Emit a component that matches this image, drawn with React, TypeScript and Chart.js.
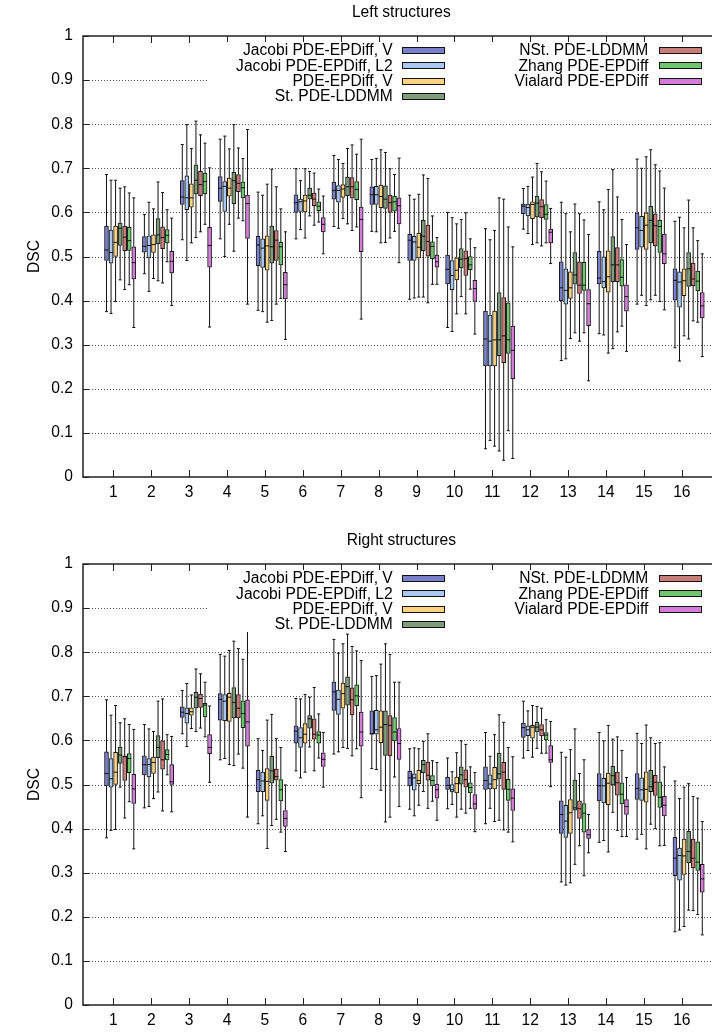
import React, { useEffect, useRef } from 'react';
import { Chart, registerables } from 'chart.js';

Chart.register(...registerables);

// ---------- data ----------
const groupLabels = ['1', '2', '3', '4', '5', '6', '7', '8', '9', '10', '11', '12', '13', '14', '15', '16'];
const groupPositions = [1, 2, 3, 4, 5, 6, 7, 8, 9, 10, 11, 12, 13, 14, 15, 16];
const yTickValues = [0, 0.1, 0.2, 0.3, 0.4, 0.5, 0.6, 0.7, 0.8, 0.9, 1];
const yTickLabels = ['0', '0.1', '0.2', '0.3', '0.4', '0.5', '0.6', '0.7', '0.8', '0.9', '1'];
const yGridValues = [0.1, 0.2, 0.3, 0.4, 0.5, 0.6, 0.7, 0.8, 0.9];

const seriesNames = [
  'Jacobi PDE-EPDiff, V',
  'Jacobi PDE-EPDiff, L2',
  'PDE-EPDiff, V',
  'St. PDE-LDDMM',
  'NSt. PDE-LDDMM',
  'Zhang PDE-EPDiff',
  'Vialard PDE-EPDiff',
];

// each entry: [whisker low, Q1, median, Q3, whisker high]
const leftJacobiV = [
  [0.375, 0.491, 0.515, 0.569, 0.686], [0.461, 0.510, 0.523, 0.545, 0.595], [0.538, 0.618, 0.635, 0.672, 0.754], [0.540, 0.625, 0.655, 0.681, 0.766],
  [0.378, 0.479, 0.526, 0.546, 0.646], [0.540, 0.600, 0.622, 0.640, 0.699], [0.568, 0.630, 0.650, 0.669, 0.729], [0.557, 0.618, 0.640, 0.658, 0.720],
  [0.403, 0.491, 0.537, 0.550, 0.639], [0.339, 0.438, 0.471, 0.503, 0.600], [0.064, 0.252, 0.313, 0.376, 0.563], [0.562, 0.597, 0.614, 0.619, 0.654],
  [0.264, 0.400, 0.429, 0.488, 0.623], [0.325, 0.438, 0.451, 0.512, 0.624], [0.392, 0.516, 0.565, 0.599, 0.721], [0.293, 0.401, 0.446, 0.472, 0.580],
];
const leftJacobiL2 = [
  [0.371, 0.485, 0.509, 0.560, 0.673], [0.421, 0.497, 0.525, 0.547, 0.623], [0.491, 0.606, 0.633, 0.683, 0.799], [0.500, 0.602, 0.659, 0.670, 0.773],
  [0.375, 0.475, 0.519, 0.540, 0.639], [0.561, 0.602, 0.624, 0.630, 0.672], [0.564, 0.623, 0.650, 0.661, 0.720], [0.556, 0.618, 0.640, 0.659, 0.722],
  [0.406, 0.491, 0.533, 0.546, 0.630], [0.330, 0.425, 0.457, 0.491, 0.588], [0.083, 0.252, 0.308, 0.367, 0.538], [0.552, 0.592, 0.611, 0.619, 0.659],
  [0.268, 0.392, 0.423, 0.472, 0.597], [0.322, 0.429, 0.443, 0.499, 0.606], [0.412, 0.521, 0.559, 0.591, 0.700], [0.263, 0.385, 0.442, 0.465, 0.589],
];
const leftEPDiffV = [
  [0.398, 0.500, 0.532, 0.569, 0.673], [0.450, 0.509, 0.527, 0.549, 0.608], [0.531, 0.612, 0.633, 0.665, 0.745], [0.573, 0.637, 0.655, 0.678, 0.744],
  [0.351, 0.469, 0.524, 0.547, 0.664], [0.542, 0.601, 0.626, 0.639, 0.699], [0.586, 0.634, 0.653, 0.663, 0.711], [0.531, 0.611, 0.636, 0.662, 0.742],
  [0.408, 0.497, 0.521, 0.553, 0.641], [0.370, 0.447, 0.469, 0.497, 0.574], [0.070, 0.252, 0.311, 0.376, 0.559], [0.527, 0.586, 0.618, 0.624, 0.680],
  [0.314, 0.405, 0.429, 0.465, 0.556], [0.281, 0.419, 0.454, 0.513, 0.652], [0.389, 0.516, 0.571, 0.599, 0.726], [0.320, 0.411, 0.445, 0.472, 0.565],
];
const leftStLDDMM = [
  [0.447, 0.525, 0.564, 0.576, 0.655], [0.445, 0.529, 0.549, 0.586, 0.669], [0.543, 0.642, 0.673, 0.708, 0.807], [0.512, 0.620, 0.672, 0.691, 0.799],
  [0.355, 0.485, 0.522, 0.569, 0.698], [0.592, 0.630, 0.639, 0.655, 0.693], [0.574, 0.638, 0.658, 0.680, 0.745], [0.532, 0.609, 0.630, 0.660, 0.736],
  [0.408, 0.513, 0.546, 0.582, 0.685], [0.409, 0.474, 0.494, 0.518, 0.584], [0.059, 0.275, 0.311, 0.418, 0.633], [0.531, 0.590, 0.621, 0.637, 0.711],
  [0.327, 0.437, 0.458, 0.509, 0.619], [0.291, 0.443, 0.481, 0.545, 0.697], [0.402, 0.531, 0.582, 0.614, 0.742], [0.313, 0.432, 0.472, 0.509, 0.628],
];
const leftNStLDDMM = [
  [0.425, 0.513, 0.544, 0.569, 0.658], [0.440, 0.518, 0.543, 0.567, 0.645], [0.556, 0.638, 0.663, 0.693, 0.776], [0.587, 0.647, 0.666, 0.686, 0.746],
  [0.392, 0.491, 0.537, 0.559, 0.658], [0.571, 0.615, 0.630, 0.644, 0.689], [0.559, 0.632, 0.658, 0.679, 0.753], [0.542, 0.600, 0.622, 0.639, 0.699],
  [0.395, 0.501, 0.534, 0.571, 0.677], [0.370, 0.457, 0.495, 0.513, 0.599], [0.038, 0.259, 0.320, 0.407, 0.630], [0.524, 0.588, 0.613, 0.629, 0.692],
  [0.308, 0.416, 0.435, 0.488, 0.597], [0.329, 0.443, 0.481, 0.520, 0.635], [0.412, 0.524, 0.570, 0.597, 0.708], [0.354, 0.434, 0.449, 0.485, 0.565],
];
const leftZhang = [
  [0.436, 0.514, 0.536, 0.566, 0.644], [0.488, 0.531, 0.548, 0.561, 0.606], [0.573, 0.642, 0.670, 0.689, 0.757], [0.581, 0.633, 0.656, 0.669, 0.722],
  [0.405, 0.481, 0.522, 0.532, 0.608], [0.578, 0.604, 0.614, 0.624, 0.653], [0.567, 0.629, 0.652, 0.670, 0.732], [0.557, 0.603, 0.624, 0.637, 0.686],
  [0.437, 0.495, 0.523, 0.533, 0.592], [0.426, 0.470, 0.481, 0.500, 0.540], [0.105, 0.280, 0.311, 0.395, 0.567], [0.531, 0.584, 0.596, 0.618, 0.671],
  [0.327, 0.423, 0.435, 0.487, 0.583], [0.342, 0.433, 0.453, 0.493, 0.584], [0.398, 0.509, 0.568, 0.582, 0.694], [0.351, 0.422, 0.444, 0.467, 0.536],
];
const leftVialard = [
  [0.339, 0.449, 0.486, 0.522, 0.633], [0.389, 0.463, 0.489, 0.512, 0.587], [0.340, 0.476, 0.525, 0.566, 0.701], [0.392, 0.541, 0.620, 0.639, 0.788],
  [0.312, 0.404, 0.436, 0.464, 0.556], [0.506, 0.556, 0.573, 0.588, 0.637], [0.358, 0.511, 0.584, 0.612, 0.766], [0.486, 0.574, 0.615, 0.633, 0.723],
  [0.437, 0.476, 0.488, 0.503, 0.543], [0.324, 0.398, 0.427, 0.446, 0.520], [0.042, 0.223, 0.287, 0.342, 0.522], [0.484, 0.531, 0.555, 0.562, 0.609],
  [0.218, 0.343, 0.393, 0.425, 0.550], [0.285, 0.376, 0.409, 0.436, 0.527], [0.379, 0.484, 0.506, 0.551, 0.655], [0.273, 0.361, 0.388, 0.418, 0.506],
];

const rightJacobiV = [
  [0.379, 0.497, 0.525, 0.574, 0.692], [0.447, 0.522, 0.545, 0.565, 0.636], [0.615, 0.652, 0.664, 0.676, 0.713], [0.556, 0.646, 0.693, 0.706, 0.795],
  [0.411, 0.484, 0.511, 0.532, 0.604], [0.531, 0.594, 0.621, 0.633, 0.695], [0.569, 0.668, 0.710, 0.732, 0.829], [0.536, 0.614, 0.615, 0.667, 0.745],
  [0.444, 0.497, 0.515, 0.530, 0.581], [0.445, 0.489, 0.498, 0.516, 0.560], [0.411, 0.489, 0.509, 0.540, 0.618], [0.560, 0.607, 0.629, 0.639, 0.689],
  [0.279, 0.389, 0.432, 0.463, 0.573], [0.369, 0.463, 0.497, 0.525, 0.618], [0.376, 0.466, 0.491, 0.525, 0.616], [0.166, 0.293, 0.333, 0.380, 0.508],
];
const rightJacobiL2 = [
  [0.396, 0.494, 0.513, 0.559, 0.657], [0.450, 0.517, 0.545, 0.559, 0.626], [0.586, 0.639, 0.661, 0.674, 0.729], [0.559, 0.645, 0.689, 0.704, 0.791],
  [0.429, 0.484, 0.508, 0.528, 0.577], [0.515, 0.584, 0.606, 0.629, 0.694], [0.574, 0.659, 0.693, 0.714, 0.798], [0.534, 0.614, 0.624, 0.668, 0.747],
  [0.429, 0.487, 0.515, 0.524, 0.583], [0.455, 0.483, 0.488, 0.500, 0.529], [0.446, 0.490, 0.501, 0.522, 0.564], [0.577, 0.611, 0.624, 0.633, 0.667],
  [0.272, 0.380, 0.417, 0.453, 0.562], [0.373, 0.458, 0.497, 0.514, 0.599], [0.387, 0.464, 0.488, 0.515, 0.593], [0.170, 0.283, 0.339, 0.356, 0.468],
];
const rightEPDiffV = [
  [0.398, 0.500, 0.528, 0.573, 0.679], [0.468, 0.525, 0.550, 0.562, 0.620], [0.627, 0.657, 0.665, 0.674, 0.703], [0.545, 0.643, 0.698, 0.707, 0.804],
  [0.355, 0.464, 0.507, 0.536, 0.646], [0.528, 0.594, 0.614, 0.638, 0.704], [0.584, 0.673, 0.706, 0.730, 0.819], [0.487, 0.595, 0.630, 0.667, 0.773],
  [0.453, 0.502, 0.509, 0.532, 0.581], [0.426, 0.481, 0.502, 0.517, 0.572], [0.416, 0.490, 0.511, 0.539, 0.613], [0.562, 0.605, 0.630, 0.634, 0.679],
  [0.277, 0.389, 0.436, 0.466, 0.579], [0.347, 0.454, 0.503, 0.526, 0.634], [0.354, 0.460, 0.489, 0.529, 0.635], [0.178, 0.296, 0.338, 0.376, 0.494],
];
const rightStLDDMM = [
  [0.494, 0.548, 0.567, 0.585, 0.640], [0.483, 0.561, 0.584, 0.611, 0.689], [0.620, 0.673, 0.698, 0.709, 0.762], [0.543, 0.651, 0.686, 0.720, 0.825],
  [0.407, 0.503, 0.531, 0.564, 0.659], [0.585, 0.628, 0.649, 0.656, 0.698], [0.582, 0.680, 0.722, 0.744, 0.841], [0.415, 0.566, 0.636, 0.667, 0.819],
  [0.484, 0.527, 0.545, 0.555, 0.598], [0.444, 0.501, 0.522, 0.540, 0.599], [0.419, 0.512, 0.524, 0.571, 0.658], [0.582, 0.619, 0.630, 0.641, 0.677],
  [0.319, 0.442, 0.447, 0.510, 0.626], [0.437, 0.499, 0.520, 0.541, 0.603], [0.410, 0.484, 0.495, 0.532, 0.606], [0.215, 0.322, 0.348, 0.394, 0.502],
];
const rightNStLDDMM = [
  [0.424, 0.509, 0.563, 0.565, 0.649], [0.440, 0.535, 0.556, 0.599, 0.694], [0.628, 0.675, 0.695, 0.705, 0.751], [0.569, 0.651, 0.673, 0.704, 0.808],
  [0.421, 0.510, 0.518, 0.535, 0.604], [0.531, 0.603, 0.614, 0.649, 0.720], [0.565, 0.658, 0.692, 0.719, 0.813], [0.426, 0.565, 0.634, 0.656, 0.795],
  [0.446, 0.510, 0.521, 0.551, 0.615], [0.435, 0.494, 0.511, 0.533, 0.591], [0.397, 0.489, 0.528, 0.550, 0.641], [0.571, 0.610, 0.624, 0.636, 0.673],
  [0.361, 0.423, 0.445, 0.463, 0.525], [0.396, 0.476, 0.504, 0.528, 0.608], [0.400, 0.475, 0.505, 0.521, 0.593], [0.214, 0.311, 0.333, 0.376, 0.473],
];
const rightZhang = [
  [0.461, 0.527, 0.559, 0.570, 0.636], [0.522, 0.556, 0.568, 0.579, 0.613], [0.608, 0.653, 0.680, 0.684, 0.732], [0.537, 0.629, 0.661, 0.690, 0.784],
  [0.392, 0.463, 0.488, 0.511, 0.584], [0.560, 0.594, 0.612, 0.620, 0.660], [0.581, 0.679, 0.701, 0.726, 0.803], [0.517, 0.599, 0.619, 0.652, 0.732],
  [0.462, 0.497, 0.509, 0.520, 0.554], [0.446, 0.481, 0.493, 0.504, 0.540], [0.392, 0.464, 0.489, 0.512, 0.584], [0.571, 0.601, 0.612, 0.618, 0.647],
  [0.293, 0.392, 0.435, 0.457, 0.556], [0.382, 0.456, 0.478, 0.504, 0.577], [0.361, 0.448, 0.471, 0.506, 0.595], [0.205, 0.305, 0.324, 0.370, 0.469],
];
const rightVialard = [
  [0.354, 0.457, 0.490, 0.523, 0.625], [0.438, 0.500, 0.506, 0.545, 0.609], [0.505, 0.570, 0.584, 0.613, 0.678], [0.426, 0.587, 0.642, 0.692, 0.850],
  [0.348, 0.405, 0.423, 0.441, 0.499], [0.494, 0.541, 0.557, 0.572, 0.618], [0.470, 0.587, 0.619, 0.664, 0.781], [0.450, 0.557, 0.593, 0.627, 0.732],
  [0.419, 0.469, 0.488, 0.501, 0.550], [0.393, 0.444, 0.456, 0.477, 0.527], [0.370, 0.441, 0.469, 0.490, 0.563], [0.495, 0.550, 0.556, 0.588, 0.643],
  [0.345, 0.378, 0.386, 0.398, 0.432], [0.382, 0.432, 0.450, 0.466, 0.516], [0.362, 0.429, 0.453, 0.473, 0.540], [0.159, 0.256, 0.286, 0.319, 0.416],
];

const leftSeries = [leftJacobiV, leftJacobiL2, leftEPDiffV, leftStLDDMM, leftNStLDDMM, leftZhang, leftVialard];
const rightSeries = [rightJacobiV, rightJacobiL2, rightEPDiffV, rightStLDDMM, rightNStLDDMM, rightZhang, rightVialard];

// ---------- styles / layout ----------
const seriesColors = ['#7a7fc9', '#a9c9f2', '#fdd383', '#7d9c79', '#c97b78', '#6fc66f', '#d37dd8'];
const seriesOffsets = [-0.18, -0.06, 0.06, 0.18, 0.30, 0.42, 0.54];
const X_MIN = 0.2;
const X_FULL_MAX = 17.0;
const PLOT_LEFT = 83;
const PLOT_TOP = 36;
const PLOT_BOTTOM = 477;
const CANVAS_W = 712;
const X_VISIBLE_MAX = X_MIN + (X_FULL_MAX - X_MIN) * (CANVAS_W - PLOT_LEFT) / (719.7 - PLOT_LEFT);
const BOX_PX = 4;
const FONT_FAMILY = '"Liberation Sans", Arial, Helvetica, sans-serif';
const FONT_SIZE = 15.6;

function makeDecor(title: string, series: number[][][]) {
  return {
    id: 'decor',
    beforeDatasetsDraw(chart: any) {
      const { ctx, chartArea: a, scales } = chart;
      const x = scales.x;
      const y = scales.y;
      ctx.save();
      // dotted grid
      ctx.strokeStyle = '#555';
      ctx.lineWidth = 1;
      ctx.setLineDash([1, 2]);
      yGridValues.forEach((v) => {
        const py = Math.round(y.getPixelForValue(v)) + 0.5;
        ctx.beginPath();
        ctx.moveTo(a.left, py);
        ctx.lineTo(a.right, py);
        ctx.stroke();
      });
      ctx.setLineDash([]);
      // whiskers
      ctx.strokeStyle = '#111';
      ctx.lineWidth = 1;
      series.forEach((s, j) => {
        s.forEach((v, i) => {
          const px = x.getPixelForValue(groupPositions[i] + seriesOffsets[j]);
          const lo = y.getPixelForValue(v[0]);
          const q1 = y.getPixelForValue(v[1]);
          const q3 = y.getPixelForValue(v[3]);
          const hi = y.getPixelForValue(v[4]);
          ctx.beginPath();
          ctx.moveTo(px, q3);
          ctx.lineTo(px, hi);
          ctx.moveTo(px, q1);
          ctx.lineTo(px, lo);
          ctx.moveTo(px - 1.5, hi);
          ctx.lineTo(px + 1.5, hi);
          ctx.moveTo(px - 1.5, lo);
          ctx.lineTo(px + 1.5, lo);
          ctx.stroke();
        });
      });
      ctx.restore();
    },
    afterDatasetsDraw(chart: any) {
      const { ctx, chartArea: a, scales } = chart;
      const x = scales.x;
      const y = scales.y;
      ctx.save();
      // medians
      ctx.strokeStyle = '#111';
      ctx.lineWidth = 1;
      series.forEach((s, j) => {
        s.forEach((v, i) => {
          const px = x.getPixelForValue(groupPositions[i] + seriesOffsets[j]);
          const m = y.getPixelForValue(v[2]);
          ctx.beginPath();
          ctx.moveTo(px - BOX_PX / 2, m);
          ctx.lineTo(px + BOX_PX / 2, m);
          ctx.stroke();
        });
      });
      // border
      ctx.strokeStyle = '#222';
      ctx.lineWidth = 1.5;
      ctx.beginPath();
      ctx.moveTo(a.right + 2, a.top);
      ctx.lineTo(a.left, a.top);
      ctx.lineTo(a.left, a.bottom);
      ctx.lineTo(a.right + 2, a.bottom);
      ctx.stroke();
      // inward ticks
      ctx.lineWidth = 1;
      ctx.beginPath();
      groupPositions.forEach((g) => {
        const px = Math.round(x.getPixelForValue(g)) + 0.5;
        ctx.moveTo(px, a.bottom);
        ctx.lineTo(px, a.bottom - 7);
        ctx.moveTo(px, a.top);
        ctx.lineTo(px, a.top + 7);
      });
      yTickValues.forEach((v) => {
        const py = Math.round(y.getPixelForValue(v)) + 0.5;
        ctx.moveTo(a.left, py);
        ctx.lineTo(a.left + 6, py);
      });
      ctx.stroke();
      // legend (opaque key box)
      ctx.fillStyle = '#fff';
      ctx.fillRect(207, 42, a.right - 207, 62);
      ctx.font = `${FONT_SIZE}px ${FONT_FAMILY}`;
      ctx.textBaseline = 'middle';
      ctx.textAlign = 'right';
      seriesNames.forEach((name, j) => {
        const col = j < 4 ? 0 : 1;
        const row = j < 4 ? j : j - 4;
        const rowY = 50 + row * 15.33;
        const textRight = col === 0 ? 392.7 : 648.3;
        const sx = col === 0 ? 402 : 659;
        ctx.fillStyle = '#000';
        ctx.fillText(name, textRight, rowY + 1);
        ctx.fillStyle = seriesColors[j];
        ctx.fillRect(sx, Math.round(rowY) - 3, 43, 7);
        ctx.strokeStyle = '#111';
        ctx.lineWidth = 1;
        ctx.strokeRect(sx + 0.5, Math.round(rowY) - 3 + 0.5, 42, 6);
      });
      // title
      ctx.fillStyle = '#000';
      ctx.textAlign = 'center';
      const tx = (x.getPixelForValue(X_MIN) + x.getPixelForValue(X_FULL_MAX)) / 2;
      ctx.fillText(title, tx, 13);
      // y axis label
      ctx.save();
      ctx.translate(35, (a.top + a.bottom) / 2);
      ctx.rotate(-Math.PI / 2);
      ctx.fillText('DSC', 0, 0);
      ctx.restore();
      ctx.restore();
    },
  };
}

function Panel({ title, series, top, height }: { title: string; series: number[][][]; top: number; height: number }) {
  const ref = useRef<HTMLCanvasElement>(null);
  useEffect(() => {
    if (!ref.current) return;
    const datasets = series.map((s, j) => ({
      type: 'bar' as const,
      label: seriesNames[j],
      data: s.map((v, i) => ({ x: groupPositions[i] + seriesOffsets[j], y: [v[1], v[3]] })),
      backgroundColor: seriesColors[j],
      borderColor: '#1a1a1a',
      borderWidth: 1,
      borderSkipped: false,
      barThickness: BOX_PX,
      grouped: false,
    }));
    const font = { family: FONT_FAMILY, size: FONT_SIZE };
    const chart = new Chart(ref.current, {
      type: 'bar',
      data: { datasets } as any,
      options: {
        animation: false,
        responsive: false,
        devicePixelRatio: 1,
        layout: { padding: { top: PLOT_TOP, left: 0, right: 0, bottom: 0 } },
        plugins: { legend: { display: false }, title: { display: false }, tooltip: { enabled: false } },
        scales: {
          x: {
            type: 'linear',
            min: X_MIN,
            max: X_VISIBLE_MAX,
            offset: false,
            grid: { display: false, drawTicks: false },
            border: { display: false },
            afterBuildTicks: (s: any) => {
              s.ticks = groupPositions.map((v) => ({ value: v }));
            },
            ticks: {
              autoSkip: false,
              maxRotation: 0,
              minRotation: 0,
              padding: 6,
              color: '#000',
              font,
              callback: (_v: any, idx: number) => groupLabels[idx],
            },
            afterFit: (s: any) => {
              s.height = height - PLOT_BOTTOM;
            },
          },
          y: {
            type: 'linear',
            min: 0,
            max: 1,
            grid: { display: false, drawTicks: false },
            border: { display: false },
            afterBuildTicks: (s: any) => {
              s.ticks = yTickValues.map((v) => ({ value: v }));
            },
            ticks: {
              padding: 10,
              color: '#000',
              font,
              callback: (_v: any, idx: number) => yTickLabels[idx],
            },
            afterFit: (s: any) => {
              s.width = PLOT_LEFT;
            },
          },
        },
      } as any,
      plugins: [makeDecor(title, series)],
    });
    return () => chart.destroy();
  }, []);
  return (
    <canvas
      ref={ref}
      width={CANVAS_W}
      height={height}
      style={{ position: 'absolute', left: 0, top, width: CANVAS_W, height, display: 'block' }}
    />
  );
}

export default function App() {
  return (
    <div style={{ position: 'absolute', left: 0, top: 0, width: 712, height: 1032, background: '#fff', overflow: 'hidden' }}>
      <Panel title="Left structures" series={leftSeries} top={0} height={528} />
      <Panel title="Right structures" series={rightSeries} top={528} height={504} />
    </div>
  );
}
